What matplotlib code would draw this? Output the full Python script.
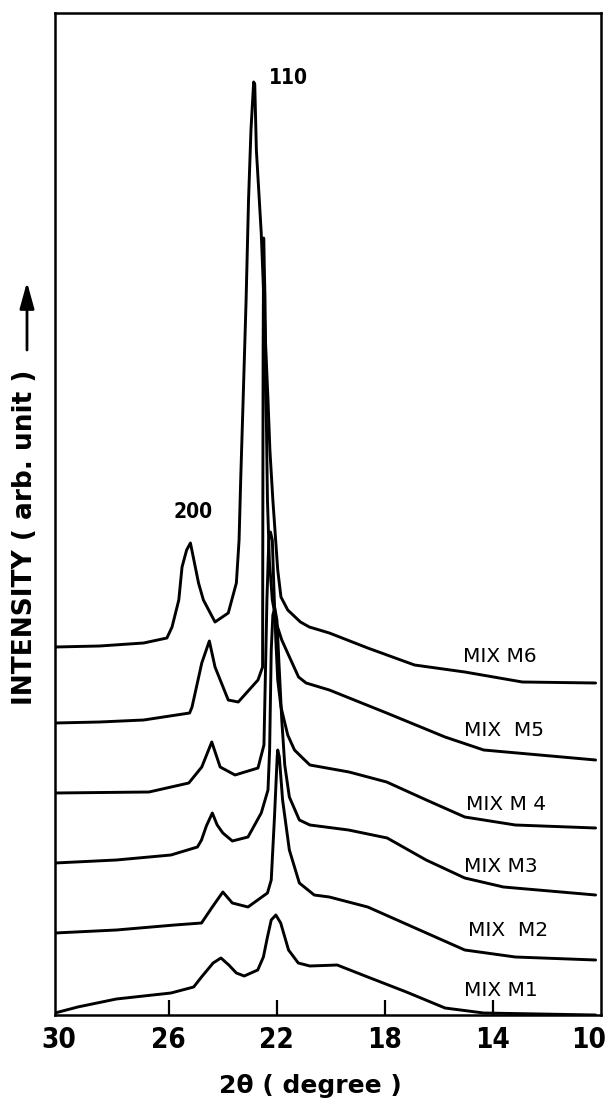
import matplotlib
matplotlib.use("Agg")
import matplotlib.pyplot as plt
from matplotlib import font_manager
from matplotlib.transforms import ScaledTranslation

# ---------------- data (2theta in degrees, intensity in arb. units) ----------------
m6_x = [30.2, 28.55, 26.92, 26.06, 25.87, 25.62, 25.50, 25.33, 25.19, 24.89, 24.71, 24.28,
        23.79, 23.49, 23.39, 23.33, 23.24, 23.13, 23.04, 22.95, 22.85, 22.81, 22.75, 22.57,
        22.40, 22.32, 22.25, 22.14, 21.96, 21.84, 21.59, 21.12, 20.79, 20.05, 18.63, 16.90,
        15.04, 12.91, 10.2]
m6_y = [368, 369, 372, 377, 388, 415, 448, 465, 472, 432, 415, 393,
        402, 432, 475, 535, 615, 715, 815, 885, 933, 931, 865, 782,
        665, 615, 565, 515, 445, 418, 405, 393, 388, 382, 367, 350,
        343, 333, 332]

m5_x = [30.2, 28.55, 26.92, 25.22, 25.13, 24.77, 24.49, 24.28, 23.79, 23.42, 22.69, 22.52,
        22.51, 22.50, 22.48, 22.43, 22.39, 22.34, 22.27, 22.16, 21.99, 21.81, 21.56, 21.19,
        20.91, 20.05, 17.93, 15.77, 14.34, 10.2]
m5_y = [292, 293, 295, 302, 308, 352, 374, 348, 315, 313, 335, 348,
        515, 665, 777, 715, 615, 515, 455, 415, 390, 375, 360, 338,
        332, 325, 302, 278, 265, 255]

m4_x = [30.2, 26.72, 25.25, 24.77, 24.40, 24.09, 23.54, 22.69, 22.47, 22.42, 22.36, 22.29,
        22.23, 22.16, 22.10, 22.03, 21.96, 21.84, 21.59, 21.34, 21.04, 20.77, 19.32, 17.93,
        16.46, 15.04, 13.17, 10.2]
m4_y = [222, 223, 232, 248, 273, 248, 240, 247, 270, 335, 415, 475,
        483, 475, 425, 375, 335, 308, 280, 265, 257, 250, 243, 233,
        215, 198, 190, 187]

m3_x = [30.2, 27.93, 25.91, 24.93, 24.78, 24.60, 24.38, 24.20, 23.99, 23.64, 23.06, 22.57,
        22.32, 22.26, 22.20, 22.14, 22.07, 21.99, 21.92, 21.81, 21.70, 21.53, 21.16, 20.77,
        19.34, 17.91, 16.47, 15.04, 13.61, 10.2]
m3_y = [152, 155, 160, 168, 175, 189, 202, 190, 182, 174, 178, 202,
        225, 265, 365, 400, 407, 395, 355, 295, 250, 218, 195, 190,
        185, 177, 155, 137, 128, 120]

m2_x = [30.2, 27.93, 25.77, 24.78, 24.38, 23.99, 23.64, 23.06, 22.34, 22.20, 22.08, 21.98,
        21.96, 21.90, 21.78, 21.53, 21.16, 20.61, 20.05, 18.63, 16.46, 15.04, 13.17, 10.2]
m2_y = [82, 85, 90, 92, 108, 123, 112, 108, 122, 135, 198, 258,
        265, 258, 215, 165, 132, 120, 118, 108, 82, 65, 58, 55]

m1_x = [30.2, 29.36, 27.93, 25.91, 25.07, 24.78, 24.35, 24.06, 23.77, 23.49, 23.20, 22.70,
        22.49, 22.34, 22.20, 22.03, 21.85, 21.56, 21.20, 20.77, 19.76, 18.63, 17.20, 15.77,
        14.34, 10.2]
m1_y = [2, 8, 16, 22, 28, 38, 52, 57, 50, 42, 39, 45,
        58, 78, 95, 100, 92, 65, 52, 49, 50, 38, 23, 7,
        2, 0]

series_x = [m1_x, m2_x, m3_x, m4_x, m5_x, m6_x]
series_y = [m1_y, m2_y, m3_y, m4_y, m5_y, m6_y]
series_names = ["MIX M1", "MIX  M2", "MIX M3", "MIX M 4", "MIX  M5", "MIX M6"]
label_x = [15.07, 14.93, 15.07, 15.00, 15.07, 15.11]
label_y = [24, 84, 149, 210, 285, 359]

peak_labels = ["110", "200"]
peak_label_x = [21.56, 25.11]
peak_label_y = [937, 503]

xticks = [30, 26, 22, 18, 14, 10]
xticklabels = ["30", "26", "22", "18", "14", "10"]

# ---------------- fonts ----------------
has_condensed = any(f.name == "DejaVu Sans" and str(f.stretch) in ("condensed", "semi-condensed")
                    for f in font_manager.fontManager.ttflist)
num_stretch = "condensed" if has_condensed else "normal"
tick_size = 20 if has_condensed else 18
peak_size = 15 if has_condensed else 13.5

W, H = 608, 1099
fig = plt.figure(figsize=(W / 100, H / 100), dpi=100)
ax = fig.add_axes([55 / W, (H - 1015) / H, (601 - 55) / W, (1015 - 13) / H])

for xs, ys in zip(series_x, series_y):
    ax.plot(xs, ys, color="black", lw=2.1, solid_joinstyle="round", solid_capstyle="round")

ax.set_xlim(30.2, 10.2)
ax.set_ylim(0, 1002)

for name, lx, ly in zip(series_names, label_x, label_y):
    ax.text(lx, ly, name, ha="left", va="center", fontsize=14.5,
            family="DejaVu Sans", color="black")

for t, px, py in zip(peak_labels, peak_label_x, peak_label_y):
    ax.text(px, py, t, ha="center", va="center", fontsize=peak_size, fontweight="bold",
            family="DejaVu Sans", fontstretch=num_stretch, color="black")

ax.set_yticks([])
ax.set_xticks(xticks)
ax.set_xticklabels(xticklabels, family="DejaVu Sans", fontweight="bold",
                   fontstretch=num_stretch, fontsize=tick_size)
ax.tick_params(axis="x", direction="in", length=11, width=1.6, pad=8, colors="black")
ticks = ax.xaxis.get_major_ticks()
ticks[0].tick1line.set_visible(False)
ticks[-1].tick1line.set_visible(False)
last = ticks[-1].label1
last.set_transform(last.get_transform() + ScaledTranslation(-9 / 72, 0, fig.dpi_scale_trans))
first = ticks[0].label1
first.set_transform(first.get_transform() + ScaledTranslation(-1.5 / 72, 0, fig.dpi_scale_trans))
for s in ax.spines.values():
    s.set_linewidth(1.8)
    s.set_color("black")

fig.text(0.51, 0.0055, "2θ ( degree )", ha="center", va="baseline",
         fontsize=18, fontweight="bold", family="DejaVu Sans")

fig.text(0.041, (H - 537) / H, "INTENSITY ( arb. unit )", rotation=90,
         ha="center", va="center", fontsize=19, fontweight="bold", family="DejaVu Sans")
ax.annotate("", xy=(27 / W, (H - 282) / H), xytext=(27 / W, (H - 350) / H),
            xycoords="figure fraction", textcoords="figure fraction",
            arrowprops=dict(arrowstyle="-|>,head_length=0.8,head_width=0.22",
                            lw=2.0, color="black", mutation_scale=20,
                            shrinkA=0, shrinkB=0))

fig.savefig("out.png", dpi=100)
